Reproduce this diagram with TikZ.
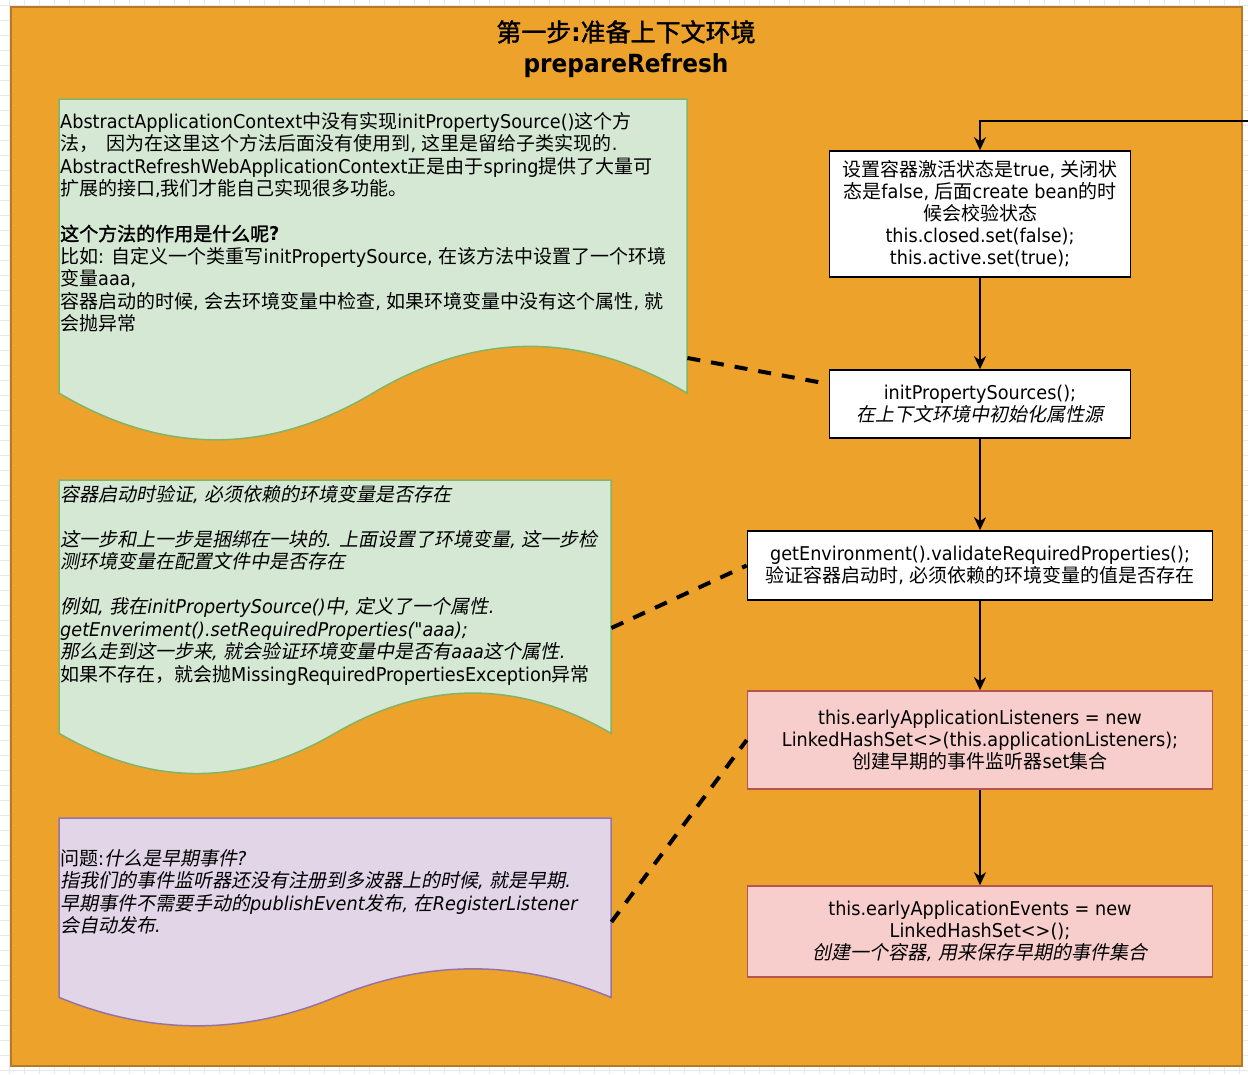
\documentclass[tikz,border=0pt]{standalone}
\usepackage{fontspec}
\setmainfont{DejaVu Sans}[FakeStretch=0.93]
\newfontfamily\latfam{DejaVu Sans}[FakeStretch=0.93]
\newfontfamily\cjkfam{Noto Sans CJK SC}[AutoFakeSlant=0.2,AutoFakeBold=1.5]
\XeTeXinterchartokenstate=1
\newXeTeXintercharclass\cjkclass
\makeatletter
\count@="2E80
\loop \XeTeXcharclass\count@=\cjkclass \ifnum\count@<"9FFF \advance\count@ 1 \repeat
\count@="FF00
\loop \XeTeXcharclass\count@=\cjkclass \ifnum\count@<"FFEF \advance\count@ 1 \repeat
\makeatother
\XeTeXinterchartoks 0 \cjkclass = {\cjkfam}
\XeTeXinterchartoks 4095 \cjkclass = {\cjkfam}
\XeTeXinterchartoks \cjkclass 0 = {\latfam}
\XeTeXinterchartoks 4095 0 = {\latfam}
\usetikzlibrary{arrows.meta,calc}
\definecolor{orangefill}{RGB}{237,162,43}
\definecolor{orangeline}{RGB}{185,120,40}
\definecolor{greenfill}{RGB}{213,232,212}
\definecolor{greenline}{RGB}{130,179,102}
\definecolor{purplefill}{RGB}{225,213,231}
\definecolor{purpleline}{RGB}{150,115,166}
\definecolor{pinkfill}{RGB}{248,206,204}
\definecolor{pinkline}{RGB}{184,84,80}
\definecolor{gridgray}{RGB}{232,232,232}
\newcommand\docshape[5]{%
  \pgfmathsetmacro\mydocdy{0.3*#4}%
  \pgfmathsetmacro\mydocyc{#2+#4-\mydocdy/2}%
  \draw[#5] (#1,#2) -- ({#1+#3},#2) -- ({#1+#3},\mydocyc)
    .. controls ({#1+5*#3/6},{\mydocyc-0.6*\mydocdy}) and ({#1+2*#3/3},{\mydocyc-0.6*\mydocdy}) .. ({#1+#3/2},\mydocyc)
    .. controls ({#1+#3/3},{\mydocyc+0.6*\mydocdy}) and ({#1+#3/6},{\mydocyc+0.6*\mydocdy}) .. (#1,\mydocyc) -- cycle;}
\tikzset{
  gridline/.style={draw=gridgray, line width=0.6pt},
  container/.style={fill=orangefill, draw=orangeline, line width=2pt},
  greennote/.style={fill=greenfill, draw=greenline, line width=1.5pt},
  purplenote/.style={fill=purplefill, draw=purpleline, line width=1.5pt},
  noteframe/.style={rectangle, draw=none, inner sep=0pt, anchor=north west},
  notetext/.style={anchor=north west, align=left, inner sep=0pt, font=\fontsize{19}{22.5}\selectfont},
  stepbox/.style={rectangle, draw=black, fill=white, line width=1.6pt, align=center, inner sep=0pt,
     font=\fontsize{19}{22}\selectfont},
  pinkbox/.style={stepbox, fill=pinkfill, draw=pinkline},
  flow/.style={draw=black, line width=1.5pt, -{Stealth[length=13pt,width=12pt,inset=4pt]}},
  dashlink/.style={draw=black, line width=4pt, dash pattern=on 13pt off 11pt},
  titletext/.style={align=center, inner sep=0pt, font=\fontsize{25}{31}\selectfont\bfseries}
}
\begin{document}
\begin{tikzpicture}[x=1pt,y=-1pt]
\useasboundingbox (0,0) rectangle (1248,1074);
\fill[white] (0,0) rectangle (1248,1074);
\foreach \i in {0,...,83} { \draw[gridline] ({9+15*\i},0) -- ({9+15*\i},1074); }
\foreach \j in {0,...,71} { \draw[gridline] (0,{5+15*\j}) -- (1248,{5+15*\j}); }

% container
\draw[container] (11,7) rectangle (1242,1066);
\node[titletext] (title) at (626,49) {第一步:准备上下文环境\\prepareRefresh};

% notes (document shapes)
\node[noteframe, minimum width=628pt, minimum height=346pt] (n1) at (59,99) {};
\docshape{59}{99}{628}{346}{greennote}
\node[noteframe, minimum width=552pt, minimum height=298pt] (n2) at (59,480) {};
\docshape{59}{480}{552}{298}{greennote}
\node[noteframe, minimum width=552pt, minimum height=211pt] (n3) at (59,818) {};
\docshape{59}{818}{552}{211}{purplenote}

\node[notetext] (t1) at (60,112) {AbstractApplicationContext中没有实现initPropertySource()这个方\\
法，\ \ 因为在这里这个方法后面没有使用到, 这里是留给子类实现的.\\
AbstractRefreshWebApplicationContext正是由于spring提供了大量可\\
扩展的接口,我们才能自己实现很多功能。\\[22.5pt]
\textbf{这个方法的作用是什么呢?}\\
比如: 自定义一个类重写initPropertySource, 在该方法中设置了一个环境\\
变量aaa,\\
容器启动的时候, 会去环境变量中检查, 如果环境变量中没有这个属性, 就\\
会抛异常};

\node[notetext] (t2) at (60,485) {\textit{容器启动时验证, 必须依赖的环境变量是否存在}\\[22.5pt]
\textit{这一步和上一步是捆绑在一块的. 上面设置了环境变量, 这一步检}\\
\textit{测环境变量在配置文件中是否存在}\\[22.5pt]
\textit{例如, 我在initPropertySource()中, 定义了一个属性.}\\
\textit{getEnveriment().setRequiredProperties("aaa);}\\
\textit{那么走到这一步来, 就会验证环境变量中是否有aaa这个属性.}\\
如果不存在，就会抛MissingRequiredPropertiesException异常};

\node[notetext] (t3) at (60,849) {问题:\textit{什么是早期事件?}\\
\textit{指我们的事件监听器还没有注册到多波器上的时候, 就是早期.}\\
\textit{早期事件不需要手动的publishEvent发布, 在RegisterListener}\\
\textit{会自动发布.}};

% flow boxes
\node[stepbox, minimum width=301pt, minimum height=126pt] (b1) at (980,214)
  {设置容器激活状态是true, 关闭状\\态是false, 后面create bean的时\\候会校验状态\\this.closed.set(false);\\this.active.set(true);};
\node[stepbox, minimum width=301pt, minimum height=68pt] (b2) at (980,404)
  {initPropertySources();\\\textit{在上下文环境中初始化属性源}};
\node[stepbox, minimum width=465pt, minimum height=69pt] (b3) at (980,565.5)
  {getEnvironment().validateRequiredProperties();\\验证容器启动时, 必须依赖的环境变量的值是否存在};
\node[pinkbox, minimum width=465pt, minimum height=98pt] (b4) at (980,740)
  {this.earlyApplicationListeners = new\\LinkedHashSet<>(this.applicationListeners);\\创建早期的事件监听器set集合};
\node[pinkbox, minimum width=465pt, minimum height=91pt] (b5) at (980,931.5)
  {this.earlyApplicationEvents = new\\LinkedHashSet<>();\\\textit{创建一个容器, 用来保存早期的事件集合}};

% flow arrows
\coordinate (entry) at (1248,121);
\draw[flow] (entry) -| (b1.north);
\draw[flow] (b1.south) -- (b2.north);
\draw[flow] (b2.south) -- (b3.north);
\draw[flow] (b3.south) -- (b4.north);
\draw[flow] (b4.south) -- (b5.north);

% dashed links
\draw[dashlink] ([yshift=-259pt]n1.north east) -- ([yshift=20pt]b2.west);
\draw[dashlink] ([yshift=-148pt]n2.north east) -- (b3.west);
\draw[dashlink] ([yshift=-104pt]n3.north east) -- (b4.west);
\end{tikzpicture}
\end{document}
